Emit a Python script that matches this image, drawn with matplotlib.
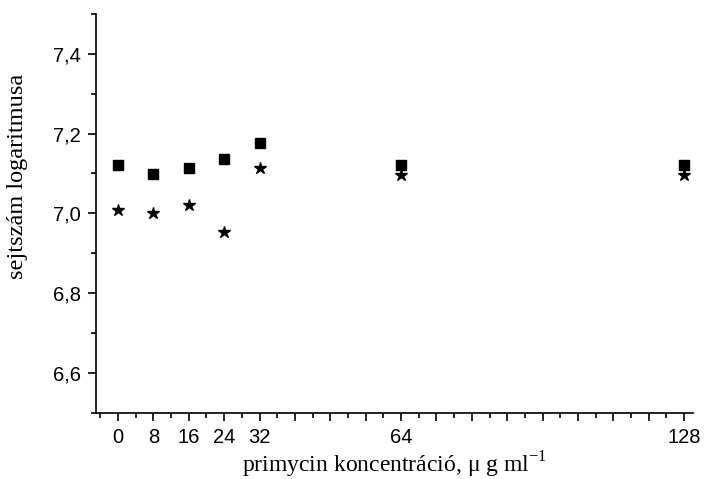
import matplotlib
matplotlib.use("Agg")
import matplotlib.pyplot as plt
from matplotlib.ticker import FixedLocator, MultipleLocator, FuncFormatter

plt.rcParams["font.family"] = ["Liberation Sans", "DejaVu Sans"]
plt.rcParams["axes.unicode_minus"] = False

conc = [0, 8, 16, 24, 32, 64, 128]
squares = [7.121, 7.098, 7.115, 7.137, 7.177, 7.121, 7.121]
stars = [7.009, 7.000, 7.022, 6.954, 7.114, 7.097, 7.097]
xtick_labels = [0, 8, 16, 24, 32, 64, 128]
yticks = [6.6, 6.8, 7.0, 7.2, 7.4]

fig = plt.figure(figsize=(7.05, 4.79), dpi=100)
ax = fig.add_axes([0.136, 0.138, 0.847, 0.833])

ax.plot(conc, squares, linestyle="none", marker="s", markersize=7, color="black")
ax.plot(conc, stars, linestyle="none", marker="*", markersize=9, color="black")

ax.set_xlim(-5, 130)
ax.set_ylim(6.5, 7.5)

for s in ["top", "right"]:
    ax.spines[s].set_visible(False)
for s in ["left", "bottom"]:
    ax.spines[s].set_linewidth(1.2)

ax.xaxis.set_major_locator(FixedLocator(list(range(0, 129, 8))))
ax.xaxis.set_minor_locator(FixedLocator(list(range(-4, 129, 8))))
ax.xaxis.set_major_formatter(FuncFormatter(lambda v, p: str(int(round(v))) if int(round(v)) in xtick_labels else ""))
ax.set_yticks(yticks)
ax.yaxis.set_minor_locator(MultipleLocator(0.1))
ax.yaxis.set_major_formatter(FuncFormatter(lambda v, p: f"{v:.1f}".replace(".", ",")))

ax.tick_params(which="major", direction="out", length=6, width=1.2, labelsize=14.5)
ax.tick_params(which="minor", direction="out", length=3.5, width=1.2)
ax.tick_params(axis="x", pad=5)
ax.tick_params(axis="y", pad=5)

ax.set_xlabel("primycin koncentráció, μ g ml$^{\\mathregular{-1}}$", family="Liberation Serif",
              fontsize=17, labelpad=2)
ax.set_ylabel("sejtszám logaritmusa", family="Liberation Serif", fontsize=17.5)
ax.yaxis.set_label_coords(-0.114, 0.593)

fig.savefig("out.png", dpi=100)
